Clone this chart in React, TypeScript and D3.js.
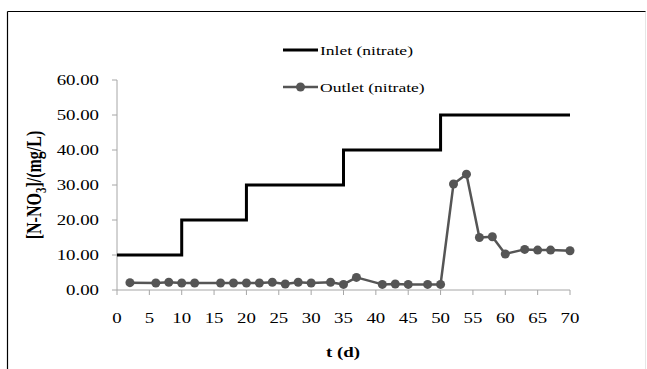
import * as d3 from "d3"

const inletDays = [0, 10, 20, 35, 50, 70]
const inletValues = [10, 20, 30, 40, 50, 50]

const outletDays = [2, 6, 8, 10, 12, 16, 18, 20, 22, 24, 26, 28, 30, 33, 35, 37, 41, 43, 45, 48, 50, 52, 54, 56, 58, 60, 63, 65, 67, 70]
const outletValues = [
  2.1, 2.0, 2.2, 2.0, 2.0, 2.0, 2.0, 2.0, 2.0, 2.2, 1.7, 2.2, 2.0, 2.2, 1.6, 3.6, 1.6, 1.7, 1.6, 1.6, 1.6, 30.3, 33.1, 15.0,
  15.2, 10.3, 11.6, 11.4, 11.4, 11.2,
]

const xTicks = [0, 5, 10, 15, 20, 25, 30, 35, 40, 45, 50, 55, 60, 65, 70]
const yTicks = [0, 10, 20, 30, 40, 50, 60]

const FONT = "Liberation Serif"
const STRETCH = 1.3
const axisColor = "#a6a6a6"
const outletColor = "#555555"

export default function App() {
  const x = d3.scaleLinear().domain([0, 70]).range([117, 570])
  const y = d3.scaleLinear().domain([0, 60]).range([290, 80])
  const fmt = d3.format(".2f")

  const inlet = inletDays.map((d, i) => ({ day: d, value: inletValues[i] }))
  const outlet = outletDays.map((d, i) => ({ day: d, value: outletValues[i] }))

  const inletPath = d3
    .line<any>()
    .x((d) => x(d.day))
    .y((d) => y(d.value))
    .curve(d3.curveStepAfter)(inlet) as string
  const outletPath = d3
    .line<any>()
    .x((d) => x(d.day))
    .y((d) => y(d.value))(outlet) as string

  const txt = { fontFamily: FONT }

  return (
    <svg width={647} height={369} style={{ position: "absolute", left: 0, top: 0, display: "block", fontFamily: FONT }}>
      <rect width={647} height={369} fill="#fff" />
      {/* frame */}
      <line x1={7.5} x2={7.5} y1={11.5} y2={369} stroke="#000" strokeWidth={1.2} />
      <line x1={7.5} x2={646} y1={11.5} y2={11.5} stroke="#000" strokeWidth={1.2} />
      <line x1={645.5} x2={645.5} y1={11.5} y2={369} stroke="#e6e6e6" />

      {/* y axis */}
      <line x1={x(0)} x2={x(0)} y1={y(60)} y2={y(0)} stroke={axisColor} />
      {yTicks.map((t) => (
        <g key={t}>
          <line x1={x(0) - 5} x2={x(0)} y1={y(t)} y2={y(t)} stroke={axisColor} />
          <text
            transform={`translate(${x(0) - 18},${y(t) + 5}) scale(${STRETCH},1)`}
            textAnchor="end"
            fontSize={14.5}
            style={txt}
          >
            {fmt(t)}
          </text>
        </g>
      ))}

      {/* x axis */}
      <line x1={x(0)} x2={x(70)} y1={y(0)} y2={y(0)} stroke={axisColor} />
      {xTicks.map((t) => (
        <g key={t}>
          <line x1={x(t)} x2={x(t)} y1={y(0)} y2={y(0) + 5} stroke={axisColor} />
          <text
            transform={`translate(${x(t)},${y(0) + 33}) scale(${STRETCH},1)`}
            textAnchor="middle"
            fontSize={14.5}
            style={txt}
          >
            {t}
          </text>
        </g>
      ))}

      {/* axis titles */}
      <text
        transform={`translate(343,357) scale(${STRETCH},1)`}
        textAnchor="middle"
        fontSize={14.5}
        fontWeight="bold"
        style={txt}
      >
        t (d)
      </text>
      <text
        transform={`translate(41,185) rotate(-90) scale(1,${STRETCH})`}
        textAnchor="middle"
        fontSize={16}
        fontWeight="bold"
        style={txt}
      >
        <tspan>[N-NO</tspan>
        <tspan dy={4} fontSize={11}>
          3
        </tspan>
        <tspan dy={-4}>]/(mg/L)</tspan>
      </text>

      {/* series */}
      <path d={inletPath} fill="none" stroke="#000" strokeWidth={3} />
      <path d={outletPath} fill="none" stroke={outletColor} strokeWidth={2.5} strokeLinejoin="round" />
      {outlet.map((d, i) => (
        <circle key={i} cx={x(d.day)} cy={y(d.value)} r={4.5} fill={outletColor} />
      ))}

      {/* legend */}
      <line x1={283} x2={318} y1={50} y2={50} stroke="#000" strokeWidth={3} />
      <text transform={`translate(320,55) scale(${STRETCH},1)`} fontSize={13.5} style={txt}>
        Inlet (nitrate)
      </text>
      <line x1={283} x2={318} y1={87} y2={87} stroke={outletColor} strokeWidth={2.5} />
      <circle cx={300.5} cy={87} r={4.5} fill={outletColor} />
      <text transform={`translate(320,92) scale(${STRETCH},1)`} fontSize={13.5} style={txt}>
        Outlet (nitrate)
      </text>
    </svg>
  )
}
